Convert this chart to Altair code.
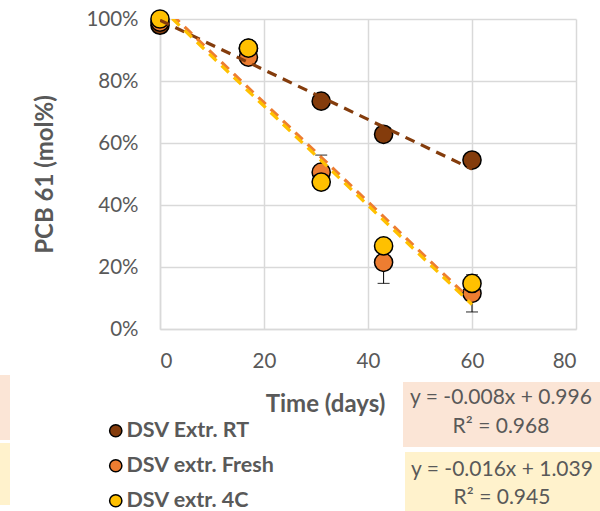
import altair as alt
import pandas as pd

# ---- data ----
series_names = ["DSV Extr. RT", "DSV extr. Fresh", "DSV extr. 4C"]
series_colors = ["#843C0C", "#ED7D31", "#FFC000"]
days = [0, 17, 31, 43, 60]
rt_vals = [0.98, 0.905, 0.735, 0.628, 0.545]
fresh_vals = [0.99, 0.877, 0.506, 0.215, 0.115]
c4_vals = [1.0, 0.906, 0.474, 0.268, 0.147]
fresh_err = [0.0, 0.0, 0.055, 0.068, 0.06]

# trendline coefficients (y = slope*x + intercept)
trend_slopes = [-0.008, -0.016, -0.016]
trend_intercepts = [0.996, 1.050, 1.039]
trend_x = [0, 60]

# equation labels
eq_right = [("y = -0.008x + 0.996", "R² = 0.968", "#FBE5D6"),
            ("y = -0.016x + 1.039", "R² = 0.945", "#FFF2CC")]
eq_left = [("y = -0.016x + 1.050", "R² = 0.930", "#FBE5D6"),
           ("y = -0.016x + 1.040", "R² = 0.950", "#FFF2CC")]

x_ticks = [0, 20, 40, 60, 80]
y_ticks = [0, 0.2, 0.4, 0.6, 0.8, 1.0]

FONT = "Lato"
GREY = "#595959"

rows = []
for name, vals in zip(series_names, [rt_vals, fresh_vals, c4_vals]):
    for d, v in zip(days, vals):
        rows.append({"series": name, "day": d, "val": v})
pts = pd.DataFrame(rows)

err = pd.DataFrame({
    "day": days,
    "lo": [v - e for v, e in zip(fresh_vals, fresh_err)],
    "hi": [v + e for v, e in zip(fresh_vals, fresh_err)],
    "e": fresh_err,
})
err = err[err["e"] > 0]

trows = []
for name, col, m, b in zip(series_names, series_colors, trend_slopes, trend_intercepts):
    for x in trend_x:
        trows.append({"series": name, "col": col, "day": x, "val": m * x + b})
trend = pd.DataFrame(trows)

xs = alt.Scale(domain=[0, 80], nice=False, zero=False)
ys = alt.Scale(domain=[0, 1], nice=False)

xaxis = alt.Axis(values=x_ticks, title="Time (days)", grid=True, ticks=False,
                 labelPadding=22, titleX=165, titleY=82, titleBaseline="alphabetic",
                 titleAnchor="middle", titleAlign="center")
yaxis = alt.Axis(values=y_ticks, format=".0%", title="PCB 61 (mol%)", grid=True,
                 ticks=False, labelPadding=22, titlePadding=28)

color = alt.Color("series:N", scale=alt.Scale(domain=series_names, range=series_colors),
                  legend=alt.Legend(title=None, orient="none", legendX=-55, legendY=401,
                                    symbolType="circle", symbolSize=150,
                                    symbolStrokeColor="black", symbolStrokeWidth=1.5,
                                    labelFont=FONT, labelFontSize=21.5, labelFontWeight="bold",
                                    labelColor=GREY, rowPadding=12, labelOffset=0,
                                    padding=0))

rule = alt.Chart(err).mark_rule(color="black", strokeWidth=1).encode(
    x=alt.X("day:Q", scale=xs, axis=xaxis),
    y=alt.Y("lo:Q", scale=ys, axis=yaxis),
    y2="hi:Q",
)
cap_lo = alt.Chart(err).mark_tick(color="black", thickness=1.2, size=12, orient="horizontal").encode(
    x=alt.X("day:Q", scale=xs), y=alt.Y("lo:Q", scale=ys))
cap_hi = alt.Chart(err).mark_tick(color="black", thickness=1.2, size=12, orient="horizontal").encode(
    x=alt.X("day:Q", scale=xs), y=alt.Y("hi:Q", scale=ys))

points = alt.Chart(pts).mark_point(filled=True, size=330, shape="circle", opacity=1,
                                   stroke="black", strokeWidth=1.5).encode(
    x=alt.X("day:Q", scale=xs),
    y=alt.Y("val:Q", scale=ys),
    color=color,
)

lines = alt.Chart(trend).mark_line(strokeWidth=3.2, strokeDash=[10, 7], clip=True).encode(
    x=alt.X("day:Q", scale=xs),
    y=alt.Y("val:Q", scale=ys),
    detail="series:N",
    color=alt.Color("col:N", scale=None),
)

layers = [rule, cap_lo, cap_hi, points, lines]

def box(x0, x1, y0, y1, fill):
    return alt.Chart(pd.DataFrame({"a": [0]})).mark_rect(fill=fill).encode(
        x=alt.value(x0), x2=alt.value(x1), y=alt.value(y0), y2=alt.value(y1))

def txt(s, x, y, align="center"):
    return alt.Chart(pd.DataFrame({"t": [s]})).mark_text(
        font=FONT, fontSize=21, color=GREY, align=align, baseline="middle").encode(
        text="t:N", x=alt.value(x), y=alt.value(y))

# right equation boxes
(l1, l2, f) = eq_right[0]
layers += [box(243, 445, 363, 428, f), txt(l1, 341, 379), txt(l2, 341, 408)]
(l1, l2, f) = eq_right[1]
layers += [box(245, 445, 433, 495, f), txt(l1, 342, 451), txt(l2, 342, 479)]
# left (cut-off) equation boxes
(l1, l2, f) = eq_left[0]
layers += [box(-170, -150, 356, 421, f), txt(l1, -254, 374), txt(l2, -254, 403)]
(l1, l2, f) = eq_left[1]
layers += [box(-170, -150, 424, 486, f), txt(l1, -254, 441), txt(l2, -254, 470)]

chart = alt.layer(*layers).properties(
    width=416, height=310,
    background="white",
    autosize=alt.AutoSizeParams(type="none"),
    padding={"left": 160, "top": 19, "right": 24, "bottom": 182},
).configure_view(stroke=None).configure_axis(
    labelFont=FONT, labelFontSize=20.5, labelColor=GREY,
    titleFont=FONT, titleFontSize=24, titleFontWeight="bold", titleColor=GREY,
    gridColor="#D9D9D9", gridWidth=1.5, domainColor="#D9D9D9", domainWidth=1.5,
)

chart.save("out.html", embed_options={"renderer": "svg", "actions": False})
